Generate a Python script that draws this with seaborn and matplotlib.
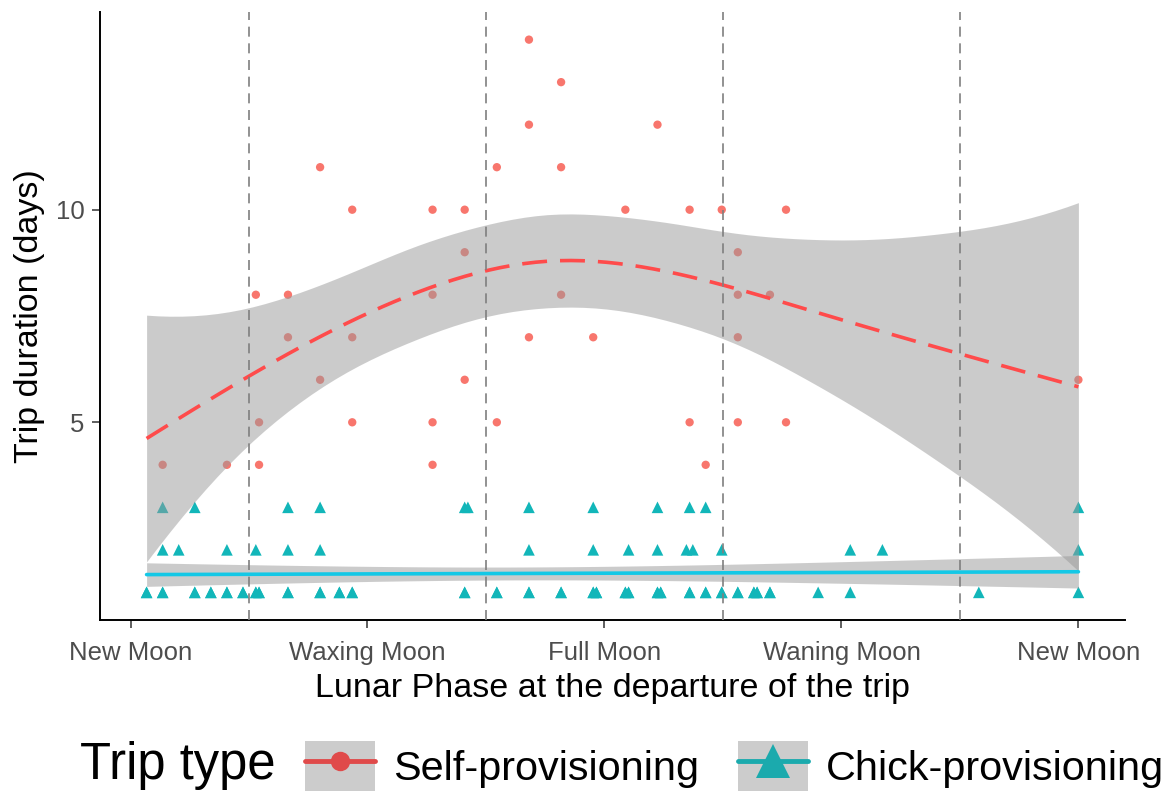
import numpy as np
import pandas as pd
import matplotlib
matplotlib.use("Agg")
import matplotlib.pyplot as plt
import seaborn as sns
from matplotlib.lines import Line2D
from matplotlib.patches import Patch
from matplotlib.legend_handler import HandlerTuple

# lunar age at departure (days) and trip duration (days)
self_day = [3.9, 4.9, 5.9, 6.9, 9.4, 10.4, 10.4, 9.4, 11.4, 12.4, 13.4, 12.4, 16.4, 13.4,
            15.4, 17.4, 18.4, 20.4, 18.9, 13.4, 18.9, 19.9,
            4.9, 6.9, 5.9, 10.4, 4.0, 6.9, 9.4, 11.4, 1.0, 3.0, 4.0, 9.4,
            12.4, 14.4, 18.9, 17.4, 18.9, 20.4, 17.9, 29.5]
self_dur = [8, 8, 11, 10, 10, 10, 9, 8, 11, 14, 13, 12, 12, 11,
            10, 10, 10, 10, 9, 8, 8, 8,
            7, 7, 6, 6, 5, 5, 5, 5, 4, 4, 4, 4,
            7, 7, 7, 5, 5, 5, 4, 6]

# chick-provisioning trips, grouped by duration
chick_day_3 = [1.0, 2.0, 4.9, 5.9, 10.4, 10.5, 12.4, 14.4, 16.4, 17.4, 17.9, 29.5]
chick_day_2 = [1.0, 1.5, 3.0, 3.9, 4.9, 5.9, 12.4, 14.4, 15.5, 16.4, 17.3, 17.5, 18.4,
               22.4, 23.4, 29.5]
chick_day_1 = [0.5, 1.0, 2.0, 2.5, 3.0, 3.5, 3.9, 4.0, 4.9, 5.9, 6.5, 6.9, 10.4, 11.4,
               12.4, 13.4, 14.4, 14.5, 15.4, 15.5, 16.4, 16.5, 17.4, 17.9, 18.4, 18.9,
               19.4, 19.5, 19.9, 21.4, 22.4, 26.4, 29.5]
# one-day trips hidden under the markers above (same day, same duration)
chick_day_1_hidden = [0.5, 1.0, 2.0, 2.5, 3.0, 3.5, 3.9, 4.0, 4.9, 5.9, 6.5, 6.9, 10.4,
                      11.4, 12.4, 13.4, 14.4, 14.5, 15.4, 15.5, 16.4, 16.5, 17.4, 17.9,
                      18.4, 18.9, 19.4, 19.5, 19.9]

phase_ticks = [0, 7.375, 14.75, 22.125, 29.5]
phase_labels = ["New Moon", "Waxing Moon", "Full Moon", "Waning Moon", "New Moon"]
phase_bounds = [3.6875, 11.0625, 18.4375, 25.8125]

groups = ["Self-provisioning", "Chick-provisioning"]
point_col = {"Self-provisioning": "#F8766D", "Chick-provisioning": "#12B6B9"}
line_col = {"Self-provisioning": "#FF4B4B", "Chick-provisioning": "#14C8E6"}
key_col = {"Self-provisioning": "#E04A4A", "Chick-provisioning": "#1BAAAD"}
markers = {"Self-provisioning": "o", "Chick-provisioning": "^"}

chick_day = chick_day_3 + chick_day_2 + chick_day_1 + chick_day_1_hidden
chick_dur = ([3] * len(chick_day_3) + [2] * len(chick_day_2)
             + [1] * (len(chick_day_1) + len(chick_day_1_hidden)))

df = pd.concat([
    pd.DataFrame({"day": self_day, "dur": self_dur, "type": groups[0]}),
    pd.DataFrame({"day": chick_day, "dur": chick_dur, "type": groups[1]}),
], ignore_index=True)


def bspline_basis(x, xl, xr, nseg, deg=3):
    dx = (xr - xl) / nseg
    knots = xl + dx * np.arange(-deg, nseg + deg + 1)
    x = np.asarray(x, float)[:, None]
    B = ((x >= knots[:-1]) & (x < knots[1:])).astype(float)
    for k in range(1, deg + 1):
        left = (x - knots[:-(k + 1)]) / (knots[k:-1] - knots[:-(k + 1)]) * B[:, :-1]
        right = (knots[k + 1:] - x) / (knots[k + 1:] - knots[1:-k]) * B[:, 1:]
        B = left + right
    return B


def smooth_fit(x, y, grid, nseg=7):
    # penalised cubic regression spline, smoothness picked by GCV
    x = np.asarray(x, float)
    y = np.asarray(y, float)
    n = len(x)
    xl, xr = grid.min() - 1e-6, grid.max() + 1e-6
    X = bspline_basis(x, xl, xr, nseg)
    G = bspline_basis(grid, xl, xr, nseg)
    nb = X.shape[1]
    D = np.diff(np.eye(nb), 2, axis=0)
    P = D.T @ D
    XtX = X.T @ X
    best = None
    for lam in np.logspace(-3, 5, 300):
        A = np.linalg.inv(XtX + lam * P)
        beta = A @ X.T @ y
        edf = np.trace(A @ XtX)
        rss = np.sum((y - X @ beta) ** 2)
        gcv = n * rss / (n - edf) ** 2
        if best is None or gcv < best[0]:
            best = (gcv, A, beta, edf, rss)
    _, A, beta, edf, rss = best
    sigma2 = rss / (n - edf)
    dof = n - edf
    z = 1.959964
    t = z + (z ** 3 + z) / (4 * dof) + (5 * z ** 5 + 16 * z ** 3 + 3 * z) / (96 * dof ** 2)
    fit = G @ beta
    se = np.sqrt(np.einsum("ij,jk,ik->i", G, A * sigma2, G))
    return fit, fit - t * se, fit + t * se


sns.set_theme(style="ticks")
plt.rcParams["font.family"] = ["Liberation Sans", "DejaVu Sans"]
plt.rcParams["text.color"] = "black"

fig = plt.figure(figsize=(11.7, 7.94), dpi=100)
ax = fig.add_axes([100 / 1170, 1 - 620 / 794, 1025 / 1170, 608 / 794])

sns.scatterplot(data=df, x="day", y="dur", hue="type", style="type",
                markers=markers, palette=point_col, hue_order=groups,
                size="type", sizes={groups[0]: 36, groups[1]: 70},
                linewidth=0, legend=False, ax=ax, zorder=2)

grid = np.linspace(df["day"].min(), df["day"].max(), 80)
for g in groups:
    sub = df[df["type"] == g]
    fit, lo, hi = smooth_fit(sub["day"], sub["dur"], grid)
    ax.fill_between(grid, lo, hi, color="#999999", alpha=0.5, linewidth=0, zorder=3)
    ls = (0, (6.9, 3.6)) if g == groups[0] else "-"
    sns.lineplot(x=grid, y=fit, color=line_col[g], linewidth=2.6, linestyle=ls,
                 ax=ax, zorder=4)

for b in phase_bounds:
    ax.axvline(b, color="#7F7F7F", linewidth=1.2, linestyle=(0, (6, 4)), zorder=5)

ax.set_xlim(-0.95, 30.95)
ax.set_ylim(0.35, 14.65)
ax.set_xticks(phase_ticks)
ax.set_xticklabels(phase_labels)
ax.set_yticks([5, 10])
ax.tick_params(axis="both", labelsize=18.5, labelcolor="#4D4D4D", color="#333333",
               length=6, width=1.1, pad=5)
ax.tick_params(axis="x", pad=9)
for s in ["top", "right"]:
    ax.spines[s].set_visible(False)
for s in ["left", "bottom"]:
    ax.spines[s].set_color("black")
    ax.spines[s].set_linewidth(1.4)
ax.set_xlabel("Lunar Phase at the departure of the trip", fontsize=24.5, color="black", labelpad=6)
ax.set_ylabel("Trip duration (days)", fontsize=24.5, color="black", labelpad=8)

handles = []
for g in groups:
    ms = 14 if g == groups[0] else 25
    handles.append((Patch(facecolor="#CCCCCC", edgecolor="none"),
                    Line2D([], [], color=key_col[g], linewidth=3.5,
                           marker=markers[g], markersize=ms, markeredgewidth=0)))

fig.text(80 / 1170, 1 - 766 / 794, "Trip type", fontsize=36.5, va="center", ha="left")
fig.legend(handles, groups, handler_map={tuple: HandlerTuple(ndivide=1)},
           loc="center left", bbox_to_anchor=(305 / 1170, 1 - 766 / 794),
           ncol=2, frameon=False, fontsize=29.8, borderpad=0, borderaxespad=0,
           handlelength=1.7, handleheight=1.45, handletextpad=0.42,
           columnspacing=0.95)

fig.savefig("out.png", dpi=100)
